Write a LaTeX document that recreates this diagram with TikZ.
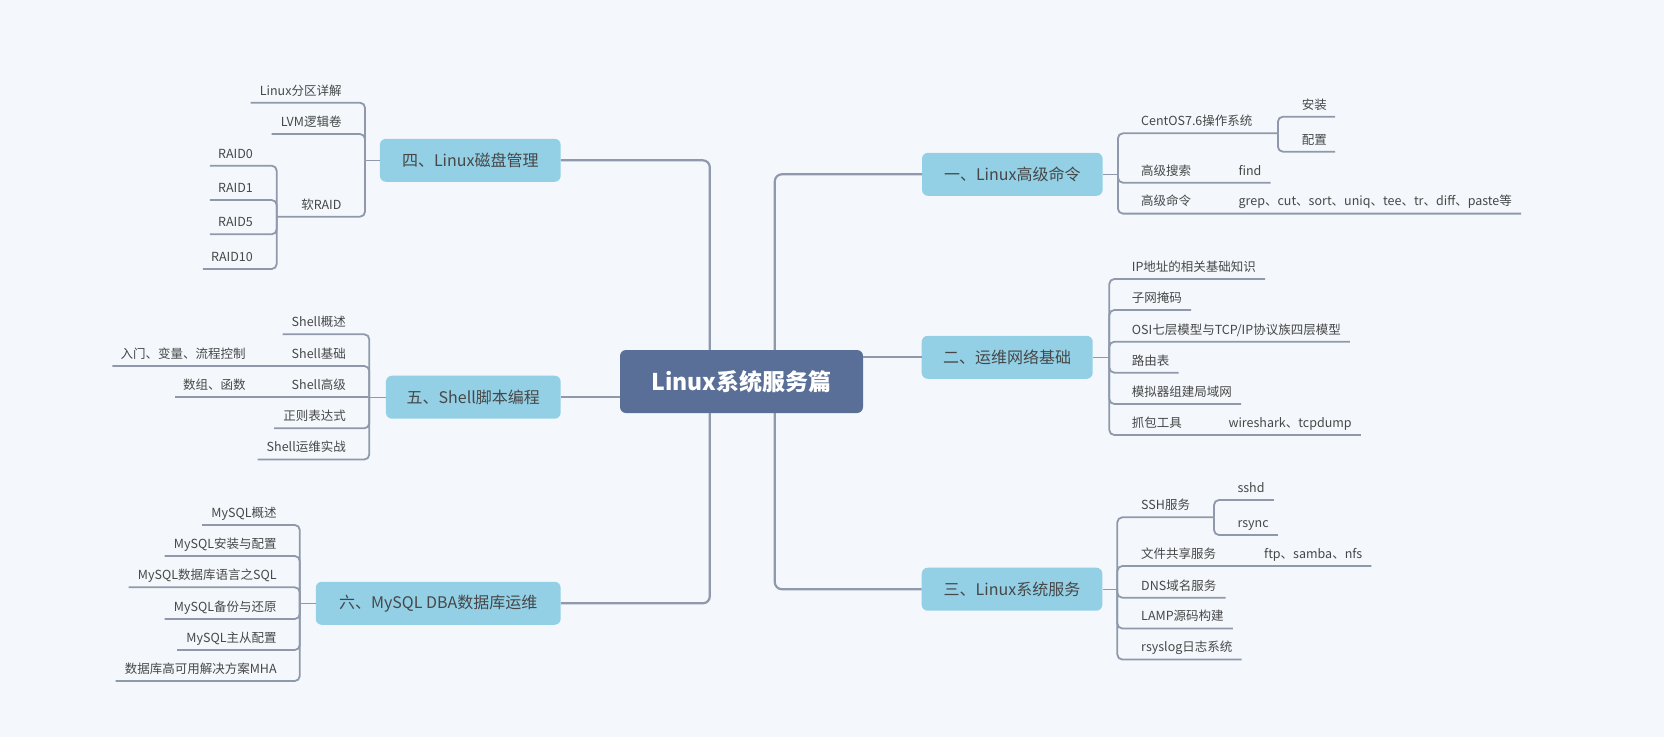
\documentclass[tikz,border=0pt]{standalone}
\usepackage{fontspec}
\setmainfont{Noto Sans CJK SC}
\definecolor{bgcol}{HTML}{F4F8FC}
\definecolor{rootcol}{HTML}{5A6F97}
\definecolor{topiccol}{HTML}{93D0E6}
\definecolor{linecol}{HTML}{8F99AB}
\definecolor{txtcol}{HTML}{474747}
\begin{document}
\begin{tikzpicture}[x=1pt,y=-1pt,
        root/.style={fill=rootcol,text=white,rounded corners=6pt,inner sep=0pt,
          minimum width=243pt,minimum height=63pt,font=\fontsize{23}{28}\selectfont\bfseries},
        topic/.style={fill=topiccol,text=txtcol,rounded corners=6pt,inner sep=0pt,
          minimum height=43pt,font=\fontsize{16}{20}\selectfont},
        leaf/.style={text=txtcol,inner sep=0pt,text height=11pt,text depth=7.5pt,
          font=\fontsize{12.5}{15}\selectfont},
        trunk/.style={draw=linecol,line width=2.2pt,rounded corners=7pt},
        stub/.style={draw=linecol,line width=1.4pt},
        twig/.style={draw=linecol,line width=1.8pt,rounded corners=5pt}]
        \fill[bgcol] (0,0) rectangle (1664,737);
        \useasboundingbox (0,0) rectangle (1664,737);
        \node[root] (root) at (741.5,381.5) {Linux系统服务篇};
        \node[topic,minimum width=180.6pt] (b1) at (1012.3,174.3) {一、Linux高级命令};
        \node[topic,minimum width=171pt] (b2) at (1007.2,357.3) {二、运维网络基础};
        \node[topic,minimum width=180.6pt] (b3) at (1012,589.2) {三、Linux系统服务};
        \node[topic,minimum width=180.7pt] (b4) at (470.3,160.3) {四、Linux磁盘管理};
        \node[topic,minimum width=174.7pt] (b5) at (473.3,397.2) {五、Shell脚本编程};
        \node[topic,minimum width=244.9pt] (b6) at (438.2,603.3) {六、MySQL DBA数据库运维};
        \draw[trunk] ([xshift=155pt]root.north west) |- (b1.west);
        \draw[trunk] (root.east |- b2.west) -- (b2.west);
        \draw[trunk] ([xshift=155pt]root.south west) |- (b3.west);
        \draw[trunk] ([xshift=90pt]root.north west) |- (b4.east);
        \draw[trunk] (root.west |- b5.east) -- (b5.east);
        \draw[trunk] ([xshift=90pt]root.south west) |- (b6.east);
        \coordinate (j1) at (1117.9,174.3);
        \coordinate (j11) at (1277.9,133.3);
        \coordinate (j2) at (1109.3,357.3);
        \coordinate (j3) at (1117.3,589.2);
        \coordinate (j31) at (1214,517.3);
        \coordinate (j4) at (365,160.3);
        \coordinate (j43) at (276.7,216.7);
        \coordinate (j5) at (369.3,397.2);
        \coordinate (j6) at (299.8,603.3);
        \node[leaf,anchor=south west] (c11) at (1140.9,133.3) {CentOS7.6操作系统};
        \node[leaf,anchor=south west] (c111) at (1301.6,116.7) {安装};
        \node[leaf,anchor=south west] (c112) at (1301.6,151.7) {配置};
        \node[leaf,anchor=south west] (c12) at (1140.9,182.7) {高级搜索};
        \node[leaf,anchor=south west] (c12a) at (1238.4,182.7) {find};
        \node[leaf,anchor=south west] (c13) at (1140.9,213.6) {高级命令};
        \node[leaf,anchor=south west] (c13a) at (1238.4,213.6) {grep、cut、sort、uniq、tee、tr、diff、paste等};
        \draw[stub] (b1.east) -- (j1);
        \draw[twig] (j1) |- (c11.south west) -- (j11);
        \draw[twig] (j11) |- (c111.south west) -- ([xshift=8pt]c111.south east);
        \draw[twig] (j11) |- (c112.south west) -- ([xshift=8pt]c112.south east);
        \draw[twig] (j1) |- (c12.south west) -- ([xshift=9pt]c12a.south east);
        \draw[twig] (j1) |- (c13.south west) -- ([xshift=9pt]c13a.south east);
        \node[leaf,anchor=south west] (g1) at (1131.7,279) {IP地址的相关基础知识};
        \node[leaf,anchor=south west] (g2) at (1131.7,310) {子网掩码};
        \node[leaf,anchor=south west] (g3) at (1131.7,341.7) {OSI七层模型与TCP/IP协议族四层模型};
        \node[leaf,anchor=south west] (g4) at (1131.7,372.7) {路由表};
        \node[leaf,anchor=south west] (g5) at (1131.7,404) {模拟器组建局域网};
        \node[leaf,anchor=south west] (g6) at (1131.7,435) {抓包工具};
        \node[leaf,anchor=south west] (g6a) at (1228.3,435) {wireshark、tcpdump};
        \draw[stub] (b2.east) -- (j2);
        \draw[twig] (j2) |- (g1.south west) -- ([xshift=9pt]g1.south east);
        \draw[twig] (j2) |- (g2.south west) -- ([xshift=9pt]g2.south east);
        \draw[twig] (j2) |- (g3.south west) -- ([xshift=9pt]g3.south east);
        \draw[twig] (j2) |- (g4.south west) -- ([xshift=9pt]g4.south east);
        \draw[twig] (j2) |- (g5.south west) -- ([xshift=9pt]g5.south east);
        \draw[twig] (j2) |- (g6.south west) -- ([xshift=9pt]g6a.south east);
        \node[leaf,anchor=south west] (h1) at (1141,517.3) {SSH服务};
        \node[leaf,anchor=south west] (h11) at (1237.3,500) {sshd};
        \node[leaf,anchor=south west] (h12) at (1237.3,535) {rsync};
        \node[leaf,anchor=south west] (h2) at (1141,566) {文件共享服务};
        \node[leaf,anchor=south west] (h2a) at (1264,566) {ftp、samba、nfs};
        \node[leaf,anchor=south west] (h3) at (1141,597.7) {DNS域名服务};
        \node[leaf,anchor=south west] (h4) at (1141,628.5) {LAMP源码构建};
        \node[leaf,anchor=south west] (h5) at (1141,659.5) {rsyslog日志系统};
        \draw[stub] (b3.east) -- (j3);
        \draw[twig] (j3) |- (h1.south west) -- (j31);
        \draw[twig] (j31) |- (h11.south west) -- ([xshift=9pt]h11.south east);
        \draw[twig] (j31) |- (h12.south west) -- ([xshift=9pt]h12.south east);
        \draw[twig] (j3) |- (h2.south west) -- ([xshift=9pt]h2a.south east);
        \draw[twig] (j3) |- (h3.south west) -- ([xshift=9pt]h3.south east);
        \draw[twig] (j3) |- (h4.south west) -- ([xshift=9pt]h4.south east);
        \draw[twig] (j3) |- (h5.south west) -- ([xshift=9pt]h5.south east);
        \node[leaf,anchor=south east] (d1) at (341.7,102.7) {Linux分区详解};
        \node[leaf,anchor=south east] (d2) at (341.7,134) {LVM逻辑卷};
        \node[leaf,anchor=south east] (d3) at (341.7,216.7) {软RAID};
        \node[leaf,anchor=south east] (r0) at (253,165.7) {RAID0};
        \node[leaf,anchor=south east] (r1) at (253,200) {RAID1};
        \node[leaf,anchor=south east] (r5) at (253,234.3) {RAID5};
        \node[leaf,anchor=south east] (r10) at (253,269) {RAID10};
        \draw[stub] (b4.west) -- (j4);
        \draw[twig] (j4) |- (d1.south east) -- ([xshift=-9pt]d1.south west);
        \draw[twig] (j4) |- (d2.south east) -- ([xshift=-9pt]d2.south west);
        \draw[twig] (j4) |- (d3.south east) -- (j43);
        \draw[twig] (j43) |- (r0.south east) -- ([xshift=-8pt]r0.south west);
        \draw[twig] (j43) |- (r1.south east) -- ([xshift=-8pt]r1.south west);
        \draw[twig] (j43) |- (r5.south east) -- ([xshift=-8pt]r5.south west);
        \draw[twig] (j43) |- (r10.south east) -- ([xshift=-8pt]r10.south west);
        \node[leaf,anchor=south east] (e1) at (346,334.3) {Shell概述};
        \node[leaf,anchor=south east] (e2) at (346,366) {Shell基础};
        \node[leaf,anchor=south east] (e2a) at (245.7,366) {入门、变量、流程控制};
        \node[leaf,anchor=south east] (e3) at (346,397.2) {Shell高级};
        \node[leaf,anchor=south east] (e3a) at (245.7,397.2) {数组、函数};
        \node[leaf,anchor=south east] (e4) at (346,428.3) {正则表达式};
        \node[leaf,anchor=south east] (e5) at (346,459.5) {Shell运维实战};
        \draw[stub] (b5.west) -- (j5);
        \draw[twig] (j5) |- (e1.south east) -- ([xshift=-9pt]e1.south west);
        \draw[twig] (j5) |- (e2.south east) -- ([xshift=-8pt]e2a.south west);
        \draw[twig] (j5) -- (e3.south east) -- ([xshift=-8pt]e3a.south west);
        \draw[twig] (j5) |- (e4.south east) -- ([xshift=-9pt]e4.south west);
        \draw[twig] (j5) |- (e5.south east) -- ([xshift=-9pt]e5.south west);
        \node[leaf,anchor=south east] (f1) at (276.8,525) {MySQL概述};
        \node[leaf,anchor=south east] (f2) at (276.8,556) {MySQL安装与配置};
        \node[leaf,anchor=south east] (f3) at (276.8,587.3) {MySQL数据库语言之SQL};
        \node[leaf,anchor=south east] (f4) at (276.8,619) {MySQL备份与还原};
        \node[leaf,anchor=south east] (f5) at (276.8,650) {MySQL主从配置};
        \node[leaf,anchor=south east] (f6) at (276.8,681) {数据库高可用解决方案MHA};
        \draw[stub] (b6.west) -- (j6);
        \draw[twig] (j6) |- (f1.south east) -- ([xshift=-9pt]f1.south west);
        \draw[twig] (j6) |- (f2.south east) -- ([xshift=-9pt]f2.south west);
        \draw[twig] (j6) |- (f3.south east) -- ([xshift=-9pt]f3.south west);
        \draw[twig] (j6) |- (f4.south east) -- ([xshift=-9pt]f4.south west);
        \draw[twig] (j6) |- (f5.south east) -- ([xshift=-9pt]f5.south west);
        \draw[twig] (j6) |- (f6.south east) -- ([xshift=-9pt]f6.south west);
\end{tikzpicture}
\end{document}
